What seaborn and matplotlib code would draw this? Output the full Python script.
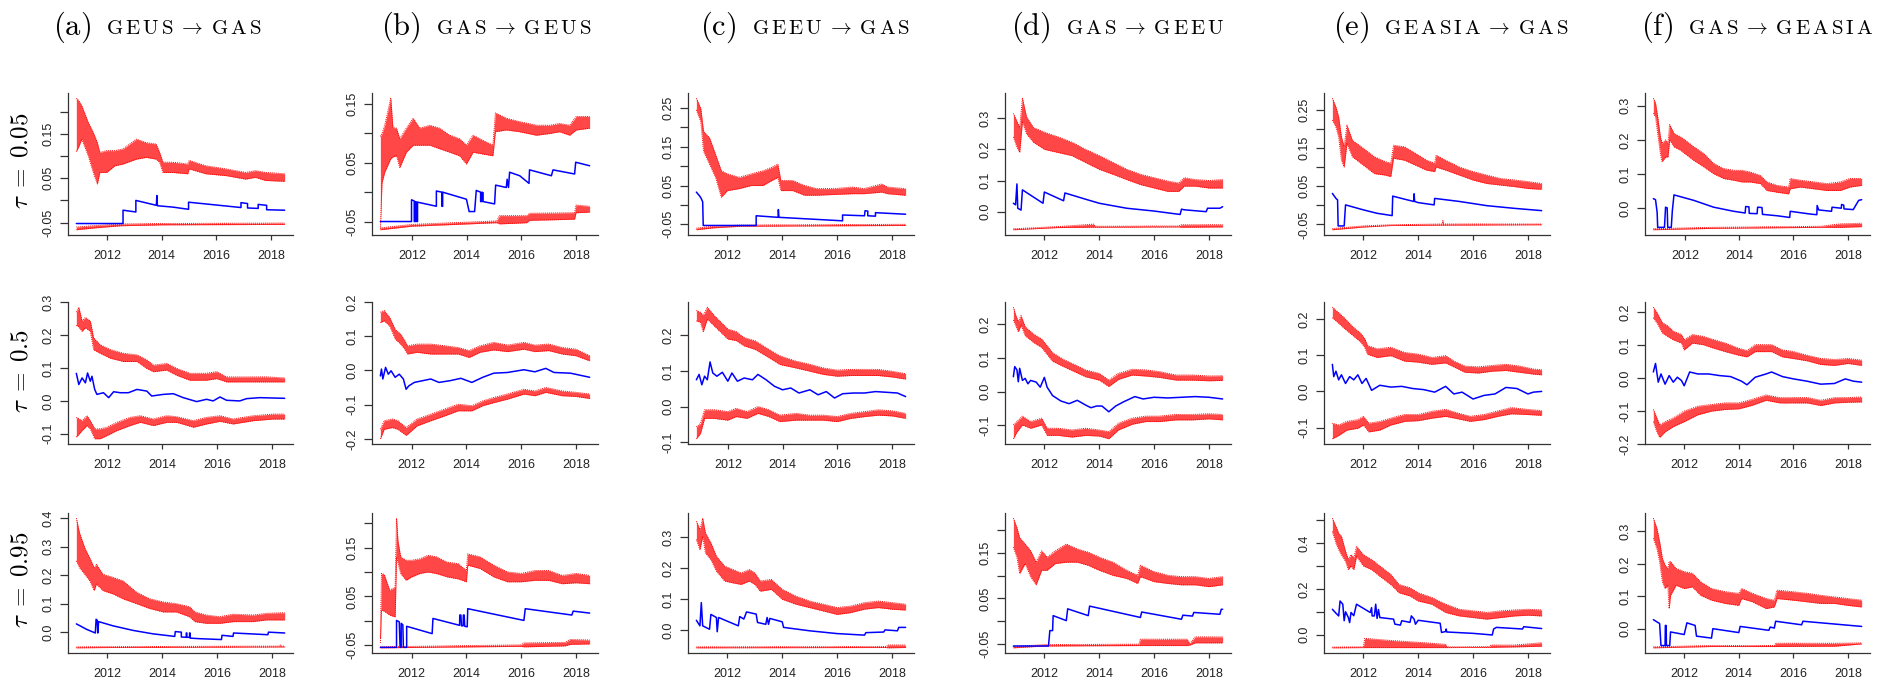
import matplotlib
matplotlib.use("Agg")
import matplotlib.pyplot as plt
import numpy as np
import pandas as pd
import seaborn as sns
from matplotlib.offsetbox import TextArea, HPacker, AnchoredOffsetbox

# ---------------------------------------------------------------------------
# Rolling-window quantile causality estimates (blue) with red confidence
# bounds.  Each bound is stored as (year, low, high) describing the spread
# of the band; each estimate as (year, value).  Panel names: column letter
# (pair of markets) + row number (quantile level).
# ---------------------------------------------------------------------------

# ---- tau = 0.05 -----------------------------------------------------------
a1_upper = [(2010.87, 0.11, 0.23), (2010.95, 0.12, 0.225), (2011.07, 0.138, 0.213), (2011.31, 0.10, 0.175),
            (2011.49, 0.063, 0.153), (2011.64, 0.037, 0.13), (2011.73, 0.063, 0.108), (2011.98, 0.063, 0.112),
            (2012.28, 0.078, 0.112), (2012.58, 0.082, 0.116), (2013.07, 0.093, 0.138), (2013.43, 0.097, 0.13),
            (2013.79, 0.093, 0.127), (2013.92, 0.086, 0.108), (2014.04, 0.063, 0.086), (2014.40, 0.063, 0.086),
            (2014.95, 0.060, 0.082), (2015.00, 0.071, 0.090), (2015.61, 0.060, 0.078), (2016.34, 0.056, 0.071),
            (2017.07, 0.048, 0.063), (2017.43, 0.052, 0.067), (2017.79, 0.045, 0.063), (2018.50, 0.043, 0.060)]
a1_coef = [(2010.87, -0.052), (2012.58, -0.052), (2012.58, -0.022), (2013.05, -0.026), (2013.05, 0.0),
           (2013.80, -0.011), (2013.82, 0.011), (2013.84, -0.012), (2014.40, -0.015), (2014.98, -0.020),
           (2014.98, -0.004), (2016.90, -0.016), (2016.90, -0.005), (2017.14, -0.007), (2017.14, -0.017),
           (2017.53, -0.018), (2017.53, -0.009), (2017.84, -0.011), (2017.84, -0.021), (2018.50, -0.022)]
a1_lower = [(2010.87, -0.066, -0.060), (2011.5, -0.062, -0.057), (2012.5, -0.057, -0.053),
            (2014.0, -0.055, -0.052), (2018.5, -0.054, -0.051)]

b1_upper = [(2010.84, -0.062, 0.095), (2010.90, 0.016, 0.10), (2011.0, 0.034, 0.114), (2011.22, 0.057, 0.16),
            (2011.30, 0.060, 0.11), (2011.43, 0.062, 0.109), (2011.55, 0.042, 0.091), (2011.79, 0.068, 0.109),
            (2012.04, 0.080, 0.126), (2012.28, 0.080, 0.109), (2012.65, 0.080, 0.114), (2013.01, 0.074, 0.109),
            (2013.38, 0.068, 0.097), (2013.74, 0.062, 0.091), (2013.99, 0.048, 0.080), (2014.23, 0.068, 0.097),
            (2014.60, 0.065, 0.088), (2014.96, 0.062, 0.080), (2015.05, 0.103, 0.135), (2015.45, 0.106, 0.126),
            (2015.94, 0.103, 0.120), (2016.55, 0.097, 0.114), (2017.04, 0.100, 0.114), (2017.40, 0.103, 0.117),
            (2017.77, 0.097, 0.114), (2018.01, 0.106, 0.129), (2018.50, 0.109, 0.129)]
b1_coef = [(2010.84, -0.050), (2011.98, -0.050), (2011.98, -0.013), (2012.08, -0.015), (2012.08, -0.050),
           (2012.12, -0.050), (2012.12, -0.016), (2012.17, -0.017), (2012.17, -0.050), (2012.20, -0.050),
           (2012.20, -0.017), (2012.89, -0.024), (2012.89, 0.002), (2013.09, 0.0), (2013.09, -0.024),
           (2013.12, -0.024), (2013.12, 0.0), (2013.99, -0.012), (2014.09, -0.033), (2014.29, -0.033),
           (2014.35, 0.003), (2014.51, 0.0), (2014.51, -0.016), (2014.56, -0.016), (2014.56, 0.0),
           (2014.60, -0.001), (2014.60, -0.016), (2015.02, -0.020), (2015.06, 0.012), (2015.45, 0.008),
           (2015.48, 0.022), (2015.53, 0.008), (2015.57, 0.034), (2015.94, 0.028), (2016.28, 0.015),
           (2016.30, 0.038), (2017.10, 0.028), (2017.16, 0.038), (2017.95, 0.031), (2017.99, 0.051),
           (2018.50, 0.045)]
b1_lower = [(2010.84, -0.064, -0.061), (2011.98, -0.058, -0.055), (2015.1, -0.052, -0.049),
            (2015.2, -0.054, -0.040), (2016.2, -0.052, -0.040), (2016.3, -0.048, -0.036),
            (2017.95, -0.046, -0.035), (2018.0, -0.035, -0.022), (2018.5, -0.034, -0.024)]

c1_upper = [(2010.87, 0.245, 0.275), (2011.03, 0.215, 0.249), (2011.13, 0.139, 0.19), (2011.35, 0.105, 0.173),
            (2011.57, 0.071, 0.13), (2011.78, 0.020, 0.088), (2012.0, 0.037, 0.080), (2012.43, 0.042, 0.071),
            (2012.87, 0.050, 0.080), (2013.3, 0.050, 0.088), (2013.62, 0.063, 0.097), (2013.84, 0.071, 0.105),
            (2013.95, 0.037, 0.063), (2014.38, 0.037, 0.063), (2014.81, 0.025, 0.050), (2015.25, 0.025, 0.042),
            (2015.9, 0.027, 0.042), (2016.55, 0.029, 0.046), (2016.98, 0.029, 0.042), (2017.63, 0.033, 0.054),
            (2017.84, 0.029, 0.046), (2018.5, 0.025, 0.042)]
c1_coef = [(2010.87, 0.033), (2011.0, 0.022), (2011.05, 0.016), (2011.10, 0.008), (2011.12, -0.053),
           (2013.05, -0.053), (2013.05, -0.028), (2013.85, -0.032), (2013.86, -0.012), (2013.88, -0.032),
           (2016.2, -0.041), (2016.2, -0.026), (2017.0, -0.028), (2017.02, -0.015), (2017.12, -0.016),
           (2017.12, -0.028), (2017.4, -0.029), (2017.4, -0.020), (2018.5, -0.024)]
c1_lower = [(2010.87, -0.064, -0.060), (2011.5, -0.059, -0.055), (2012.5, -0.055, -0.052),
            (2018.5, -0.053, -0.050)]

d1_upper = [(2010.87, 0.24, 0.315), (2011.0, 0.207, 0.29), (2011.1, 0.19, 0.27), (2011.2, 0.29, 0.364),
            (2011.35, 0.25, 0.304), (2011.6, 0.223, 0.27), (2012.0, 0.20, 0.255), (2012.5, 0.19, 0.24),
            (2013.0, 0.18, 0.223), (2013.5, 0.158, 0.20), (2014.0, 0.136, 0.18), (2014.5, 0.12, 0.158),
            (2015.0, 0.103, 0.136), (2015.5, 0.087, 0.12), (2016.0, 0.076, 0.109), (2016.5, 0.065, 0.098),
            (2016.9, 0.065, 0.092), (2017.1, 0.082, 0.109), (2017.5, 0.082, 0.103), (2018.0, 0.076, 0.10),
            (2018.5, 0.076, 0.103)]
d1_coef = [(2010.87, 0.027), (2010.95, 0.022), (2011.0, 0.089), (2011.03, 0.011), (2011.15, 0.005),
           (2011.2, 0.070), (2011.95, 0.027), (2012.0, 0.063), (2012.7, 0.035), (2012.75, 0.060),
           (2013.5, 0.040), (2014.0, 0.027), (2015.0, 0.011), (2016.0, 0.002), (2016.95, -0.009),
           (2017.0, 0.008), (2017.1, 0.006), (2017.9, 0.0), (2017.95, 0.011), (2018.4, 0.011), (2018.5, 0.016)]
d1_lower = [(2010.87, -0.058, -0.055), (2012.5, -0.051, -0.048), (2013.8, -0.050, -0.040),
            (2013.85, -0.050, -0.047), (2016.9, -0.049, -0.046), (2017.0, -0.050, -0.042),
            (2018.5, -0.049, -0.042)]

e1_upper = [(2010.87, 0.223, 0.28), (2011.0, 0.205, 0.257), (2011.1, 0.179, 0.231), (2011.2, 0.118, 0.179),
            (2011.3, 0.10, 0.153), (2011.4, 0.162, 0.21), (2011.6, 0.127, 0.17), (2012.0, 0.105, 0.149),
            (2012.4, 0.083, 0.127), (2012.8, 0.079, 0.114), (2013.0, 0.075, 0.11), (2013.1, 0.123, 0.157),
            (2013.5, 0.118, 0.153), (2013.9, 0.105, 0.136), (2014.3, 0.092, 0.118), (2014.6, 0.088, 0.11),
            (2014.65, 0.10, 0.131), (2015.0, 0.092, 0.118), (2015.5, 0.079, 0.10), (2016.0, 0.066, 0.088),
            (2016.5, 0.057, 0.079), (2017.0, 0.053, 0.070), (2017.5, 0.049, 0.066), (2018.0, 0.044, 0.062),
            (2018.5, 0.042, 0.057)]
e1_coef = [(2010.87, 0.031), (2010.95, 0.023), (2011.0, 0.018), (2011.06, 0.014), (2011.08, -0.054),
           (2011.3, -0.054), (2011.35, 0.001), (2012.0, -0.012), (2012.5, -0.021), (2013.05, -0.027),
           (2013.07, 0.024), (2013.5, 0.016), (2013.84, 0.010), (2013.85, 0.030), (2013.87, 0.010),
           (2014.0, 0.007), (2014.58, 0.001), (2014.6, 0.018), (2015.5, 0.010), (2016.5, -0.001),
           (2017.5, -0.008), (2018.5, -0.014)]
e1_lower = [(2010.87, -0.064, -0.061), (2012.0, -0.057, -0.054), (2013.0, -0.053, -0.051),
            (2014.88, -0.052, -0.049), (2014.9, -0.052, -0.040), (2014.92, -0.052, -0.049),
            (2018.5, -0.051, -0.049)]

f1_upper = [(2010.84, 0.278, 0.322), (2010.92, 0.268, 0.308), (2011.0, 0.219, 0.268), (2011.1, 0.16, 0.209),
            (2011.16, 0.136, 0.19), (2011.29, 0.15, 0.20), (2011.38, 0.15, 0.19), (2011.44, 0.20, 0.245),
            (2011.6, 0.18, 0.219), (2011.84, 0.17, 0.209), (2012.0, 0.16, 0.20), (2012.33, 0.14, 0.18),
            (2012.7, 0.121, 0.16), (2013.06, 0.101, 0.131), (2013.43, 0.087, 0.116), (2013.8, 0.082, 0.111),
            (2014.1, 0.077, 0.111), (2014.41, 0.077, 0.106), (2014.78, 0.072, 0.096), (2015.02, 0.052, 0.077),
            (2015.39, 0.047, 0.067), (2015.82, 0.042, 0.062), (2015.88, 0.057, 0.087), (2016.25, 0.062, 0.082),
            (2016.74, 0.057, 0.077), (2017.23, 0.052, 0.072), (2017.72, 0.052, 0.077), (2018.08, 0.062, 0.087),
            (2018.51, 0.067, 0.087)]
f1_coef = [(2010.84, 0.028), (2010.92, 0.025), (2010.98, -0.012), (2011.0, -0.056), (2011.25, -0.056),
           (2011.29, 0.003), (2011.35, 0.001), (2011.37, -0.056), (2011.5, -0.056), (2011.54, -0.007),
           (2011.6, 0.039), (2012.33, 0.023), (2013.06, 0.003), (2013.8, -0.009), (2014.22, -0.014),
           (2014.24, 0.005), (2014.36, 0.004), (2014.37, -0.015), (2014.66, -0.016), (2014.68, 0.003),
           (2014.84, 0.002), (2014.86, -0.018), (2015.39, -0.022), (2015.86, -0.027), (2015.88, -0.009),
           (2016.61, -0.017), (2016.86, -0.019), (2016.87, 0.008), (2016.93, -0.005), (2017.4, -0.009),
           (2017.42, 0.003), (2017.76, 0.0), (2017.77, 0.011), (2017.85, 0.009), (2017.86, -0.002),
           (2018.2, -0.004), (2018.4, 0.023), (2018.51, 0.025)]
f1_lower = [(2010.84, -0.063, -0.060), (2013.0, -0.059, -0.056), (2017.0, -0.056, -0.053),
            (2017.7, -0.056, -0.046), (2018.51, -0.054, -0.044)]

# ---- tau = 0.5 ------------------------------------------------------------
a2_upper = [(2010.86, 0.23, 0.27), (2010.95, 0.225, 0.285), (2011.07, 0.212, 0.243), (2011.19, 0.223, 0.254),
            (2011.37, 0.212, 0.243), (2011.49, 0.156, 0.192), (2011.73, 0.145, 0.171), (2012.1, 0.13, 0.156),
            (2012.58, 0.12, 0.145), (2013.07, 0.12, 0.14), (2013.43, 0.099, 0.125), (2013.67, 0.089, 0.109),
            (2014.16, 0.094, 0.114), (2014.52, 0.078, 0.099), (2015.0, 0.063, 0.084), (2015.6, 0.063, 0.084),
            (2015.98, 0.068, 0.089), (2016.34, 0.058, 0.073), (2016.82, 0.058, 0.073), (2017.8, 0.058, 0.073),
            (2018.46, 0.058, 0.070)]
a2_coef = [(2010.86, 0.084), (2010.95, 0.050), (2011.07, 0.070), (2011.19, 0.055), (2011.27, 0.085),
           (2011.37, 0.060), (2011.43, 0.075), (2011.53, 0.035), (2011.61, 0.020), (2011.85, 0.025),
           (2012.04, 0.010), (2012.22, 0.028), (2012.46, 0.025), (2012.76, 0.025), (2013.07, 0.035),
           (2013.43, 0.030), (2013.61, 0.015), (2014.04, 0.020), (2014.4, 0.022), (2014.76, 0.010),
           (2015.25, -0.002), (2015.61, 0.005), (2015.85, 0.0), (2016.1, 0.012), (2016.34, 0.002),
           (2016.82, 0.0), (2017.07, 0.007), (2017.55, 0.010), (2018.46, 0.008)]
a2_lower = [(2010.86, -0.11, -0.05), (2011.07, -0.09, -0.06), (2011.25, -0.075, -0.045), (2011.37, -0.085, -0.06),
            (2011.53, -0.115, -0.085), (2011.73, -0.115, -0.085), (2011.98, -0.105, -0.08), (2012.34, -0.09, -0.065),
            (2012.82, -0.075, -0.05), (2013.19, -0.065, -0.045), (2013.67, -0.075, -0.055), (2014.16, -0.065, -0.045),
            (2014.52, -0.065, -0.048), (2015.13, -0.08, -0.06), (2015.61, -0.07, -0.05), (2016.1, -0.062, -0.045),
            (2016.58, -0.07, -0.055), (2017.31, -0.06, -0.045), (2018.04, -0.055, -0.04), (2018.46, -0.055, -0.04)]

b2_upper = [(2010.86, 0.14, 0.17), (2011.0, 0.145, 0.175), (2011.2, 0.13, 0.155), (2011.4, 0.092, 0.12),
            (2011.6, 0.077, 0.106), (2011.75, 0.062, 0.087), (2011.85, 0.048, 0.072), (2012.2, 0.053, 0.077),
            (2012.7, 0.048, 0.077), (2013.2, 0.048, 0.072), (2013.7, 0.048, 0.067), (2014.1, 0.038, 0.058),
            (2014.5, 0.053, 0.072), (2015.0, 0.060, 0.082), (2015.5, 0.055, 0.074), (2016.1, 0.062, 0.082),
            (2016.5, 0.055, 0.074), (2017.0, 0.058, 0.077), (2017.5, 0.048, 0.067), (2018.0, 0.043, 0.062),
            (2018.5, 0.028, 0.043)]
b2_coef = [(2010.86, -0.016), (2010.9, 0.004), (2010.95, -0.025), (2011.05, 0.009), (2011.15, -0.011),
           (2011.25, -0.001), (2011.4, -0.020), (2011.55, -0.011), (2011.7, -0.025), (2011.8, -0.055),
           (2011.9, -0.045), (2012.1, -0.035), (2012.4, -0.030), (2012.7, -0.025), (2013.0, -0.035),
           (2013.4, -0.030), (2013.8, -0.023), (2014.2, -0.035), (2014.6, -0.020), (2015.0, -0.008),
           (2015.5, -0.006), (2016.1, 0.002), (2016.5, -0.004), (2016.9, 0.006), (2017.2, -0.006),
           (2017.8, -0.008), (2018.5, -0.020)]
b2_lower = [(2010.86, -0.20, -0.172), (2011.0, -0.172, -0.147), (2011.3, -0.167, -0.142), (2011.5, -0.172, -0.147),
            (2011.8, -0.19, -0.167), (2012.2, -0.162, -0.142), (2012.7, -0.147, -0.128), (2013.2, -0.133, -0.113),
            (2013.7, -0.118, -0.099), (2014.2, -0.118, -0.103), (2014.6, -0.103, -0.089), (2015.0, -0.094, -0.079),
            (2015.5, -0.084, -0.069), (2016.1, -0.069, -0.055), (2016.5, -0.074, -0.060), (2016.9, -0.064, -0.050),
            (2017.5, -0.074, -0.060), (2018.0, -0.076, -0.064), (2018.5, -0.082, -0.069)]

c2_upper = [(2010.85, 0.24, 0.269), (2011.0, 0.236, 0.264), (2011.1, 0.21, 0.255), (2011.25, 0.245, 0.278),
            (2011.5, 0.226, 0.255), (2012.0, 0.189, 0.217), (2012.3, 0.185, 0.21), (2012.6, 0.17, 0.193),
            (2013.0, 0.16, 0.184), (2013.5, 0.137, 0.16), (2013.9, 0.118, 0.142), (2014.5, 0.108, 0.127),
            (2015.0, 0.099, 0.118), (2015.5, 0.09, 0.108), (2016.0, 0.085, 0.102), (2016.5, 0.087, 0.104),
            (2017.0, 0.087, 0.104), (2017.5, 0.087, 0.104), (2018.0, 0.083, 0.099), (2018.5, 0.077, 0.092)]
c2_coef = [(2010.85, 0.075), (2010.95, 0.090), (2011.05, 0.061), (2011.15, 0.085), (2011.25, 0.075),
           (2011.35, 0.125), (2011.45, 0.094), (2011.6, 0.085), (2011.8, 0.096), (2012.0, 0.071),
           (2012.15, 0.094), (2012.35, 0.071), (2012.6, 0.080), (2012.9, 0.075), (2013.1, 0.090),
           (2013.4, 0.075), (2013.7, 0.057), (2014.0, 0.047), (2014.3, 0.052), (2014.6, 0.038),
           (2015.0, 0.047), (2015.3, 0.033), (2015.6, 0.042), (2015.9, 0.024), (2016.2, 0.036),
           (2016.6, 0.038), (2017.0, 0.038), (2017.4, 0.042), (2017.8, 0.040), (2018.2, 0.038), (2018.5, 0.028)]
c2_lower = [(2010.85, -0.09, -0.057), (2011.0, -0.075, -0.047), (2011.15, -0.033, -0.009), (2011.5, -0.033, -0.009),
            (2012.0, -0.038, -0.014), (2012.3, -0.028, -0.005), (2012.7, -0.033, -0.014), (2013.1, -0.019, 0.0),
            (2013.5, -0.028, -0.009), (2013.9, -0.042, -0.024), (2014.5, -0.038, -0.019), (2015.0, -0.038, -0.024),
            (2015.5, -0.038, -0.024), (2016.0, -0.042, -0.028), (2016.5, -0.033, -0.019), (2017.0, -0.028, -0.014),
            (2017.5, -0.024, -0.009), (2018.0, -0.026, -0.012), (2018.5, -0.033, -0.019)]

d2_upper = [(2010.87, 0.212, 0.25), (2010.95, 0.197, 0.228), (2011.05, 0.177, 0.207), (2011.15, 0.197, 0.225),
            (2011.3, 0.166, 0.192), (2011.6, 0.146, 0.171), (2011.9, 0.131, 0.156), (2012.1, 0.11, 0.136),
            (2012.3, 0.09, 0.115), (2012.7, 0.074, 0.095), (2013.1, 0.059, 0.08), (2013.5, 0.044, 0.064),
            (2014.0, 0.034, 0.054), (2014.35, 0.015, 0.034), (2014.7, 0.036, 0.054), (2015.2, 0.049, 0.066),
            (2015.7, 0.046, 0.064), (2016.2, 0.042, 0.059), (2016.8, 0.034, 0.049), (2017.4, 0.034, 0.049),
            (2018.0, 0.032, 0.046), (2018.5, 0.033, 0.047)]
d2_coef = [(2010.87, 0.044), (2010.92, 0.074), (2011.0, 0.064), (2011.05, 0.029), (2011.1, 0.069),
           (2011.2, 0.033), (2011.3, 0.039), (2011.4, 0.023), (2011.5, 0.033), (2011.7, 0.028),
           (2011.85, 0.013), (2012.0, 0.042), (2012.1, 0.013), (2012.3, -0.012), (2012.6, -0.028),
           (2012.9, -0.036), (2013.2, -0.026), (2013.5, -0.040), (2013.7, -0.048), (2013.9, -0.043),
           (2014.1, -0.043), (2014.35, -0.060), (2014.6, -0.043), (2014.9, -0.030), (2015.3, -0.015),
           (2015.6, -0.022), (2016.0, -0.017), (2016.5, -0.019), (2017.0, -0.017), (2017.5, -0.015),
           (2018.0, -0.017), (2018.5, -0.022)]
d2_lower = [(2010.87, -0.14, -0.099), (2011.0, -0.12, -0.089), (2011.2, -0.099, -0.073), (2011.5, -0.109, -0.089),
            (2011.9, -0.099, -0.079), (2012.1, -0.13, -0.109), (2012.5, -0.13, -0.109), (2013.0, -0.135, -0.114),
            (2013.5, -0.13, -0.109), (2014.0, -0.132, -0.114), (2014.35, -0.14, -0.119), (2014.7, -0.114, -0.094),
            (2015.2, -0.097, -0.079), (2015.7, -0.089, -0.073), (2016.2, -0.089, -0.073), (2016.8, -0.084, -0.068),
            (2017.4, -0.084, -0.068), (2018.0, -0.081, -0.066), (2018.5, -0.084, -0.068)]

e2_upper = [(2010.87, 0.204, 0.233), (2011.1, 0.189, 0.218), (2011.3, 0.175, 0.204), (2011.6, 0.156, 0.18),
            (2011.9, 0.137, 0.161), (2012.05, 0.122, 0.146), (2012.15, 0.103, 0.127), (2012.5, 0.094, 0.118),
            (2013.0, 0.099, 0.122), (2013.5, 0.084, 0.108), (2014.0, 0.081, 0.103), (2014.5, 0.075, 0.094),
            (2015.0, 0.079, 0.099), (2015.3, 0.068, 0.084), (2015.7, 0.053, 0.070), (2016.2, 0.051, 0.068),
            (2016.7, 0.056, 0.072), (2017.2, 0.058, 0.075), (2017.7, 0.053, 0.070), (2018.2, 0.048, 0.062),
            (2018.5, 0.046, 0.060)]
e2_coef = [(2010.87, 0.075), (2010.92, 0.041), (2011.0, 0.056), (2011.1, 0.032), (2011.2, 0.046),
           (2011.35, 0.022), (2011.5, 0.041), (2011.65, 0.032), (2011.8, 0.046), (2011.95, 0.022),
           (2012.1, 0.036), (2012.3, 0.003), (2012.6, 0.017), (2013.0, 0.012), (2013.4, 0.014),
           (2013.8, 0.008), (2014.2, 0.005), (2014.6, -0.002), (2015.0, 0.014), (2015.3, -0.007),
           (2015.6, -0.002), (2016.0, -0.021), (2016.4, -0.011), (2016.8, -0.007), (2017.2, 0.011),
           (2017.6, 0.008), (2018.0, -0.007), (2018.2, -0.002), (2018.5, 0.0)]
e2_lower = [(2010.87, -0.131, -0.088), (2011.1, -0.122, -0.093), (2011.4, -0.107, -0.083), (2011.8, -0.102, -0.078),
            (2012.0, -0.093, -0.069), (2012.2, -0.112, -0.088), (2012.6, -0.107, -0.083), (2013.0, -0.093, -0.074),
            (2013.5, -0.083, -0.064), (2014.0, -0.081, -0.064), (2014.5, -0.074, -0.055), (2015.0, -0.069, -0.050),
            (2015.4, -0.075, -0.059), (2015.9, -0.083, -0.069), (2016.4, -0.078, -0.064), (2016.9, -0.069, -0.054),
            (2017.4, -0.062, -0.045), (2018.0, -0.064, -0.050), (2018.5, -0.066, -0.053)]

f2_upper = [(2010.87, 0.184, 0.216), (2011.0, 0.169, 0.20), (2011.2, 0.138, 0.169), (2011.4, 0.127, 0.159),
            (2011.6, 0.117, 0.143), (2011.9, 0.107, 0.133), (2012.0, 0.086, 0.117), (2012.3, 0.107, 0.133),
            (2012.7, 0.102, 0.127), (2013.1, 0.091, 0.117), (2013.5, 0.081, 0.107), (2014.0, 0.070, 0.091),
            (2014.3, 0.065, 0.084), (2014.6, 0.081, 0.102), (2015.2, 0.081, 0.102), (2015.6, 0.065, 0.086),
            (2016.0, 0.060, 0.081), (2016.5, 0.053, 0.070), (2017.0, 0.042, 0.060), (2017.5, 0.039, 0.057),
            (2018.0, 0.045, 0.060), (2018.5, 0.039, 0.055)]
f2_coef = [(2010.87, 0.019), (2010.95, 0.045), (2011.05, -0.012), (2011.15, 0.013), (2011.3, -0.018),
           (2011.45, 0.008), (2011.6, -0.012), (2011.75, 0.003), (2011.9, -0.007), (2012.0, -0.023),
           (2012.2, 0.019), (2012.5, 0.013), (2012.9, 0.013), (2013.3, 0.008), (2013.7, 0.005),
           (2014.1, -0.009), (2014.3, -0.020), (2014.6, 0.003), (2015.0, 0.013), (2015.2, 0.019),
           (2015.6, 0.005), (2016.0, -0.002), (2016.5, -0.009), (2017.0, -0.018), (2017.5, -0.016),
           (2017.9, -0.002), (2018.2, -0.009), (2018.5, -0.012)]
f2_lower = [(2010.87, -0.132, -0.095), (2011.0, -0.163, -0.121), (2011.1, -0.18, -0.142), (2011.3, -0.163, -0.132),
            (2011.6, -0.147, -0.121), (2012.0, -0.132, -0.10), (2012.5, -0.111, -0.085), (2013.0, -0.10, -0.08),
            (2013.5, -0.095, -0.075), (2014.0, -0.093, -0.075), (2014.5, -0.082, -0.064), (2015.0, -0.067, -0.051),
            (2015.5, -0.075, -0.059), (2016.0, -0.075, -0.059), (2016.5, -0.075, -0.059), (2017.0, -0.083, -0.067),
            (2017.5, -0.075, -0.059), (2018.0, -0.073, -0.059), (2018.5, -0.072, -0.057)]

# ---- tau = 0.95 -----------------------------------------------------------
a3_upper = [(2010.88, 0.25, 0.40), (2011.0, 0.226, 0.347), (2011.19, 0.203, 0.295), (2011.37, 0.18, 0.26),
            (2011.53, 0.146, 0.226), (2011.61, 0.169, 0.238), (2011.85, 0.146, 0.203), (2012.22, 0.134, 0.192),
            (2012.58, 0.117, 0.18), (2013.07, 0.10, 0.14), (2013.55, 0.083, 0.117), (2014.04, 0.071, 0.106),
            (2014.52, 0.071, 0.10), (2015.0, 0.054, 0.089), (2015.19, 0.037, 0.071), (2015.61, 0.031, 0.060),
            (2016.1, 0.031, 0.054), (2016.58, 0.037, 0.063), (2017.31, 0.037, 0.060), (2017.8, 0.043, 0.066),
            (2018.46, 0.043, 0.068)]
a3_coef = [(2010.88, 0.029), (2011.0, 0.023), (2011.25, 0.010), (2011.57, -0.003), (2011.6, 0.045),
           (2011.64, 0.042), (2011.66, -0.003), (2011.69, 0.037), (2012.22, 0.022), (2012.95, 0.006),
           (2013.67, -0.006), (2014.46, -0.015), (2014.48, 0.002), (2014.7, 0.0), (2014.7, -0.017),
           (2014.88, -0.018), (2014.88, -0.003), (2014.9, -0.003), (2014.9, -0.018), (2015.0, -0.018),
           (2015.0, -0.003), (2015.02, -0.003), (2015.02, -0.021), (2015.37, -0.023), (2016.16, -0.026),
           (2016.18, -0.011), (2016.58, -0.015), (2016.6, -0.003), (2017.85, -0.009), (2017.87, 0.0),
           (2018.46, -0.003)]
a3_lower = [(2010.88, -0.055, -0.052), (2012.0, -0.054, -0.051), (2018.28, -0.052, -0.049),
            (2018.3, -0.052, -0.045), (2018.32, -0.052, -0.049), (2018.46, -0.052, -0.049)]

b3_upper = [(2010.86, -0.045, -0.035), (2010.9, 0.022, 0.097), (2011.0, 0.020, 0.095), (2011.2, 0.012, 0.063),
            (2011.4, 0.008, 0.069), (2011.45, 0.13, 0.21), (2011.5, 0.12, 0.165), (2011.6, 0.097, 0.131),
            (2011.8, 0.083, 0.124), (2012.0, 0.09, 0.124), (2012.3, 0.097, 0.127), (2012.6, 0.10, 0.134),
            (2012.9, 0.097, 0.131), (2013.3, 0.09, 0.12), (2013.7, 0.086, 0.117), (2014.0, 0.08, 0.103),
            (2014.05, 0.114, 0.137), (2014.5, 0.107, 0.131), (2015.0, 0.09, 0.114), (2015.5, 0.08, 0.10),
            (2016.0, 0.08, 0.097), (2016.5, 0.083, 0.103), (2017.0, 0.083, 0.103), (2017.5, 0.076, 0.093),
            (2018.0, 0.078, 0.097), (2018.5, 0.076, 0.093)]
b3_coef = [(2010.86, -0.054), (2011.45, -0.054), (2011.45, 0.001), (2011.55, -0.002), (2011.58, -0.054),
           (2011.62, -0.054), (2011.62, -0.005), (2011.68, -0.008), (2011.7, -0.054), (2011.82, -0.054),
           (2011.82, -0.011), (2012.75, -0.026), (2012.78, 0.005), (2013.75, -0.009), (2013.76, 0.012),
           (2013.8, 0.012), (2013.82, -0.010), (2013.88, -0.010), (2013.89, 0.012), (2013.92, 0.012),
           (2013.94, -0.011), (2014.03, -0.012), (2014.05, 0.025), (2016.1, 0.001), (2016.15, 0.025),
           (2017.85, 0.012), (2017.9, 0.020), (2018.5, 0.016)]
b3_lower = [(2010.86, -0.055, -0.053), (2016.0, -0.052, -0.049), (2016.1, -0.053, -0.045),
            (2017.6, -0.051, -0.044), (2017.8, -0.048, -0.038), (2018.5, -0.047, -0.039)]

c3_upper = [(2010.87, 0.293, 0.352), (2011.0, 0.26, 0.325), (2011.1, 0.303, 0.362), (2011.2, 0.25, 0.314),
            (2011.4, 0.228, 0.282), (2011.6, 0.191, 0.239), (2011.9, 0.159, 0.207), (2012.2, 0.153, 0.196),
            (2012.5, 0.148, 0.185), (2012.8, 0.159, 0.196), (2013.0, 0.148, 0.185), (2013.2, 0.126, 0.159),
            (2013.6, 0.132, 0.164), (2014.0, 0.10, 0.132), (2014.5, 0.084, 0.11), (2015.0, 0.073, 0.094),
            (2015.5, 0.062, 0.084), (2016.0, 0.051, 0.073), (2016.5, 0.057, 0.078), (2017.0, 0.068, 0.089),
            (2017.5, 0.073, 0.094), (2018.0, 0.068, 0.089), (2018.5, 0.065, 0.084)]
c3_coef = [(2010.87, 0.032), (2010.95, 0.021), (2011.0, 0.014), (2011.05, 0.089), (2011.1, 0.014),
           (2011.35, 0.003), (2011.4, 0.051), (2011.6, 0.041), (2011.63, -0.005), (2011.68, 0.041),
           (2012.4, 0.014), (2012.45, 0.044), (2012.6, 0.036), (2012.7, 0.059), (2013.05, 0.052),
           (2013.1, 0.025), (2013.4, 0.019), (2013.45, 0.041), (2013.5, 0.019), (2013.55, 0.038),
           (2014.0, 0.027), (2014.05, 0.009), (2015.0, -0.002), (2016.0, -0.011), (2017.0, -0.016),
           (2017.05, -0.008), (2017.7, -0.006), (2017.75, 0.001), (2018.2, -0.002), (2018.25, 0.009),
           (2018.5, 0.009)]
c3_lower = [(2010.87, -0.057, -0.054), (2017.8, -0.056, -0.053), (2017.85, -0.057, -0.048),
            (2018.5, -0.056, -0.048)]

d3_upper = [(2010.87, 0.163, 0.227), (2011.0, 0.141, 0.206), (2011.1, 0.105, 0.184), (2011.3, 0.127, 0.17),
            (2011.5, 0.098, 0.155), (2011.7, 0.08, 0.13), (2011.9, 0.112, 0.155), (2012.1, 0.112, 0.141),
            (2012.4, 0.127, 0.155), (2012.8, 0.13, 0.17), (2013.2, 0.13, 0.159), (2013.6, 0.123, 0.152),
            (2014.0, 0.112, 0.141), (2014.5, 0.101, 0.13), (2015.0, 0.094, 0.112), (2015.4, 0.083, 0.101),
            (2015.5, 0.098, 0.123), (2016.0, 0.087, 0.109), (2016.5, 0.083, 0.101), (2017.0, 0.08, 0.098),
            (2017.5, 0.08, 0.098), (2018.0, 0.076, 0.094), (2018.5, 0.08, 0.098)]
d3_coef = [(2010.87, -0.055), (2012.15, -0.055), (2012.2, -0.021), (2012.3, -0.021), (2012.32, 0.012),
           (2012.8, 0.001), (2012.85, 0.027), (2013.6, 0.012), (2013.65, 0.033), (2015.5, 0.008),
           (2015.55, 0.020), (2017.0, 0.004), (2017.05, 0.013), (2017.4, 0.011), (2017.45, 0.019),
           (2018.4, 0.015), (2018.45, 0.026), (2018.5, 0.026)]
d3_lower = [(2010.87, -0.059, -0.056), (2012.0, -0.055, -0.052), (2015.45, -0.054, -0.051),
            (2015.5, -0.054, -0.040), (2017.2, -0.054, -0.040), (2017.3, -0.053, -0.050),
            (2017.5, -0.048, -0.035), (2018.5, -0.048, -0.035)]

e3_upper = [(2010.87, 0.45, 0.508), (2011.0, 0.40, 0.472), (2011.1, 0.371, 0.443), (2011.2, 0.349, 0.429),
            (2011.35, 0.32, 0.364), (2011.45, 0.284, 0.328), (2011.55, 0.30, 0.349), (2011.65, 0.284, 0.335),
            (2011.75, 0.342, 0.385), (2012.0, 0.30, 0.349), (2012.3, 0.284, 0.328), (2012.6, 0.255, 0.30),
            (2013.0, 0.219, 0.263), (2013.3, 0.183, 0.219), (2013.7, 0.169, 0.205), (2014.0, 0.147, 0.183),
            (2014.5, 0.133, 0.162), (2015.0, 0.097, 0.133), (2015.5, 0.082, 0.111), (2016.0, 0.075, 0.104),
            (2016.5, 0.068, 0.097), (2017.0, 0.075, 0.104), (2017.5, 0.082, 0.108), (2018.0, 0.085, 0.111),
            (2018.5, 0.082, 0.108)]
e3_coef = [(2010.87, 0.111), (2011.0, 0.094), (2011.1, 0.082), (2011.15, 0.147), (2011.25, 0.133),
           (2011.3, 0.061), (2011.35, 0.10), (2011.45, 0.076), (2011.5, 0.053), (2011.55, 0.097),
           (2011.65, 0.083), (2011.75, 0.133), (2012.25, 0.097), (2012.3, 0.118), (2012.32, 0.082),
           (2012.4, 0.082), (2012.45, 0.133), (2012.5, 0.071), (2012.55, 0.11), (2012.6, 0.075),
           (2013.1, 0.068), (2013.15, 0.046), (2013.35, 0.042), (2013.4, 0.061), (2013.7, 0.054),
           (2013.75, 0.082), (2013.85, 0.068), (2013.9, 0.046), (2014.0, 0.063), (2014.8, 0.050),
           (2014.85, 0.010), (2015.0, 0.014), (2015.02, 0.025), (2015.04, 0.012), (2016.0, 0.006),
           (2016.7, -0.001), (2016.75, 0.025), (2016.85, 0.032), (2017.8, 0.025), (2017.85, 0.035),
           (2018.5, 0.027)]
e3_lower = [(2010.87, -0.057, -0.054), (2012.0, -0.056, -0.053), (2012.05, -0.056, -0.016),
            (2013.0, -0.056, -0.025), (2014.0, -0.056, -0.033), (2015.0, -0.056, -0.042),
            (2015.05, -0.056, -0.053), (2016.6, -0.055, -0.052), (2016.65, -0.055, -0.045),
            (2017.5, -0.053, -0.045), (2018.5, -0.050, -0.035)]

f3_upper = [(2010.87, 0.279, 0.341), (2011.0, 0.248, 0.31), (2011.1, 0.207, 0.269), (2011.2, 0.145, 0.217),
            (2011.3, 0.124, 0.196), (2011.4, 0.134, 0.186), (2011.45, 0.062, 0.207), (2011.5, 0.103, 0.207),
            (2011.7, 0.134, 0.186), (2012.0, 0.124, 0.176), (2012.3, 0.129, 0.171), (2012.6, 0.103, 0.145),
            (2013.0, 0.088, 0.124), (2013.5, 0.078, 0.114), (2014.0, 0.072, 0.109), (2014.1, 0.093, 0.124),
            (2014.5, 0.083, 0.109), (2015.0, 0.062, 0.093), (2015.3, 0.067, 0.088), (2015.4, 0.093, 0.119),
            (2016.0, 0.088, 0.114), (2016.5, 0.083, 0.109), (2017.0, 0.078, 0.103), (2017.5, 0.078, 0.098),
            (2018.0, 0.072, 0.093), (2018.5, 0.067, 0.088)]
f3_coef = [(2010.87, 0.028), (2011.0, 0.021), (2011.1, 0.016), (2011.15, -0.052), (2011.3, -0.052),
           (2011.31, 0.010), (2011.34, 0.010), (2011.35, -0.052), (2011.47, -0.052), (2011.5, -0.010),
           (2012.0, -0.018), (2012.1, 0.018), (2012.4, 0.010), (2012.45, -0.023), (2013.0, -0.029),
           (2013.05, 0.0), (2014.0, -0.012), (2014.05, 0.007), (2015.1, -0.005), (2015.15, 0.005),
           (2015.3, 0.002), (2015.35, 0.023), (2016.3, 0.012), (2016.35, 0.023), (2018.5, 0.007)]
f3_lower = [(2010.87, -0.059, -0.056), (2013.0, -0.055, -0.052), (2015.3, -0.055, -0.052),
            (2015.35, -0.055, -0.045), (2017.5, -0.054, -0.045), (2018.5, -0.047, -0.044)]

# ---- labels ---------------------------------------------------------------
panel_tags = ["(a)", "(b)", "(c)", "(d)", "(e)", "(f)"]
pair_from = ["GEUS", "GAS", "GEEU", "GAS", "GEASIA", "GAS"]
pair_to = ["GAS", "GEUS", "GAS", "GEEU", "GAS", "GEASIA"]
tau_levels = ["0.05", "0.5", "0.95"]
x_ticks = [2012, 2014, 2016, 2018]

# y tick positions (value list, label list) per row, column
y_ticks = {
    (1, "a"): ([-0.05, 0, 0.05, 0.10, 0.15, 0.20], ["-0.05", "", "0.05", "", "0.15", ""]),
    (1, "b"): ([-0.05, 0, 0.05, 0.10, 0.15], ["-0.05", "", "0.05", "", "0.15"]),
    (1, "c"): ([-0.05, 0, 0.05, 0.10, 0.15, 0.20, 0.25], ["-0.05", "", "0.05", "", "0.15", "", "0.25"]),
    (1, "d"): ([0, 0.1, 0.2, 0.3], ["0.0", "0.1", "0.2", "0.3"]),
    (1, "e"): ([-0.05, 0, 0.05, 0.10, 0.15, 0.20, 0.25], ["-0.05", "", "0.05", "", "0.15", "", "0.25"]),
    (1, "f"): ([0, 0.1, 0.2, 0.3], ["0.0", "0.1", "0.2", "0.3"]),
    (2, "a"): ([-0.1, 0, 0.1, 0.2, 0.3], ["-0.1", "0.0", "0.1", "0.2", "0.3"]),
    (2, "b"): ([-0.2, -0.1, 0, 0.1, 0.2], ["-0.2", "-0.1", "0.0", "0.1", "0.2"]),
    (2, "c"): ([-0.1, 0, 0.1, 0.2], ["-0.1", "0.0", "0.1", "0.2"]),
    (2, "d"): ([-0.1, 0, 0.1, 0.2], ["-0.1", "0.0", "0.1", "0.2"]),
    (2, "e"): ([-0.1, 0, 0.1, 0.2], ["-0.1", "0.0", "0.1", "0.2"]),
    (2, "f"): ([-0.2, -0.1, 0, 0.1, 0.2], ["-0.2", "-0.1", "0.0", "0.1", "0.2"]),
    (3, "a"): ([0, 0.1, 0.2, 0.3, 0.4], ["0.0", "0.1", "0.2", "0.3", "0.4"]),
    (3, "b"): ([-0.05, 0, 0.05, 0.10, 0.15, 0.20], ["-0.05", "", "0.05", "", "0.15", ""]),
    (3, "c"): ([0, 0.1, 0.2, 0.3], ["0.0", "0.1", "0.2", "0.3"]),
    (3, "d"): ([-0.05, 0, 0.05, 0.10, 0.15, 0.20], ["-0.05", "", "0.05", "", "0.15", ""]),
    (3, "e"): ([0, 0.1, 0.2, 0.3, 0.4, 0.5], ["0.0", "", "0.2", "", "0.4", ""]),
    (3, "f"): ([0, 0.1, 0.2, 0.3], ["0.0", "0.1", "0.2", "0.3"]),
}

panels = {
    (1, "a"): (a1_upper, a1_coef, a1_lower), (1, "b"): (b1_upper, b1_coef, b1_lower),
    (1, "c"): (c1_upper, c1_coef, c1_lower), (1, "d"): (d1_upper, d1_coef, d1_lower),
    (1, "e"): (e1_upper, e1_coef, e1_lower), (1, "f"): (f1_upper, f1_coef, f1_lower),
    (2, "a"): (a2_upper, a2_coef, a2_lower), (2, "b"): (b2_upper, b2_coef, b2_lower),
    (2, "c"): (c2_upper, c2_coef, c2_lower), (2, "d"): (d2_upper, d2_coef, d2_lower),
    (2, "e"): (e2_upper, e2_coef, e2_lower), (2, "f"): (f2_upper, f2_coef, f2_lower),
    (3, "a"): (a3_upper, a3_coef, a3_lower), (3, "b"): (b3_upper, b3_coef, b3_lower),
    (3, "c"): (c3_upper, c3_coef, c3_lower), (3, "d"): (d3_upper, d3_coef, d3_lower),
    (3, "e"): (e3_upper, e3_coef, e3_lower), (3, "f"): (f3_upper, f3_coef, f3_lower),
}

# ---- styling / layout -----------------------------------------------------
sns.set_theme(style="ticks")
plt.rcParams["font.family"] = ["Liberation Sans", "DejaVu Sans"]
plt.rcParams["mathtext.fontset"] = "cm"
plt.rcParams["axes.unicode_minus"] = False

W, H = 1894, 686
fig = plt.figure(figsize=(W / 100, H / 100), dpi=100, facecolor="white")

col_keys = ["a", "b", "c", "d", "e", "f"]
col_px = [(68, 293), (372, 598), (688, 914), (1005, 1231), (1324, 1550), (1645, 1870)]
row_px = [(93, 235), (302, 444), (513, 653)]
title_cx = [157, 486, 805, 1118, 1451, 1757]
tau_cy = [161, 371, 580]

RED = "#FF0000"
BLUE = "#0000FF"
AXC = "#333333"


def band_frame(rows):
    return pd.DataFrame(rows, columns=["year", "low", "high"])


def draw_band(ax, rows):
    df = band_frame(rows)
    ax.fill_between(df["year"], df["low"], df["high"], color=RED, alpha=0.72, linewidth=0)
    for edge in ("low", "high"):
        sns.lineplot(data=df, x="year", y=edge, ax=ax, color=RED, lw=0.7, linestyle=(0, (1, 1)),
                     sort=False, estimator=None, legend=False)


for r, (top, bot) in enumerate(row_px, start=1):
    for c, (left, right) in zip(col_keys, col_px):
        ax = fig.add_axes([left / W, 1 - bot / H, (right - left) / W, (bot - top) / H])
        upper, coef, lower = panels[(r, c)]
        draw_band(ax, upper)
        draw_band(ax, lower)
        cdf = pd.DataFrame(coef, columns=["year", "value"])
        sns.lineplot(data=cdf, x="year", y="value", ax=ax, color=BLUE, lw=1.1,
                     sort=False, estimator=None, legend=False)

        # R-style 4% axis expansion
        lows = [v[1] for v in upper + lower] + [v[1] for v in coef]
        highs = [v[2] for v in upper + lower] + [v[1] for v in coef]
        ymin, ymax = min(lows), max(highs)
        pad = 0.04 * (ymax - ymin)
        ax.set_ylim(ymin - pad, ymax + pad)
        xs = [v[0] for v in upper + lower + coef]
        xpad = 0.04 * (max(xs) - min(xs))
        ax.set_xlim(min(xs) - xpad, max(xs) + xpad)

        ticks, labels = y_ticks[(r, c)]
        ax.set_yticks(ticks)
        ax.set_yticklabels(labels, rotation=90, va="center")
        ax.set_xticks(x_ticks)
        ax.set_xticklabels([str(t) for t in x_ticks])
        ax.set_xlabel("")
        ax.set_ylabel("")
        ax.set_facecolor("white")
        for side in ("top", "right"):
            ax.spines[side].set_visible(False)
        for side in ("left", "bottom"):
            ax.spines[side].set_color(AXC)
            ax.spines[side].set_linewidth(0.9)
        ax.tick_params(axis="both", direction="out", width=0.9, color=AXC,
                       labelsize=9, labelcolor="#222222")
        ax.tick_params(axis="x", length=3.8, pad=7)
        ax.tick_params(axis="y", length=6.0, pad=4)

# column titles
for i, cx in enumerate(title_cx):
    tag = TextArea(r"$\mathrm{" + panel_tags[i] + "}$", textprops=dict(size=22, color="black"))
    frm = r"\,".join(pair_from[i])
    to = r"\,".join(pair_to[i])
    pair = TextArea(r"$\mathrm{" + frm + r"}\;\rightarrow\;\mathrm{" + to + "}$",
                    textprops=dict(size=15, color="black"))
    pack = HPacker(children=[tag, pair], align="baseline", pad=0, sep=11)
    box = AnchoredOffsetbox(loc="center", child=pack, pad=0, borderpad=0, frameon=False,
                            bbox_to_anchor=(cx / W, 1 - 27 / H), bbox_transform=fig.transFigure)
    fig.add_artist(box)

# quantile level labels
for lvl, cy in zip(tau_levels, tau_cy):
    fig.text(21 / W, 1 - cy / H, r"$\tau\;=\;" + lvl + "$", rotation=90, ha="center", va="center",
             size=18, color="black")

fig.savefig("out.png", dpi=100, facecolor="white")
